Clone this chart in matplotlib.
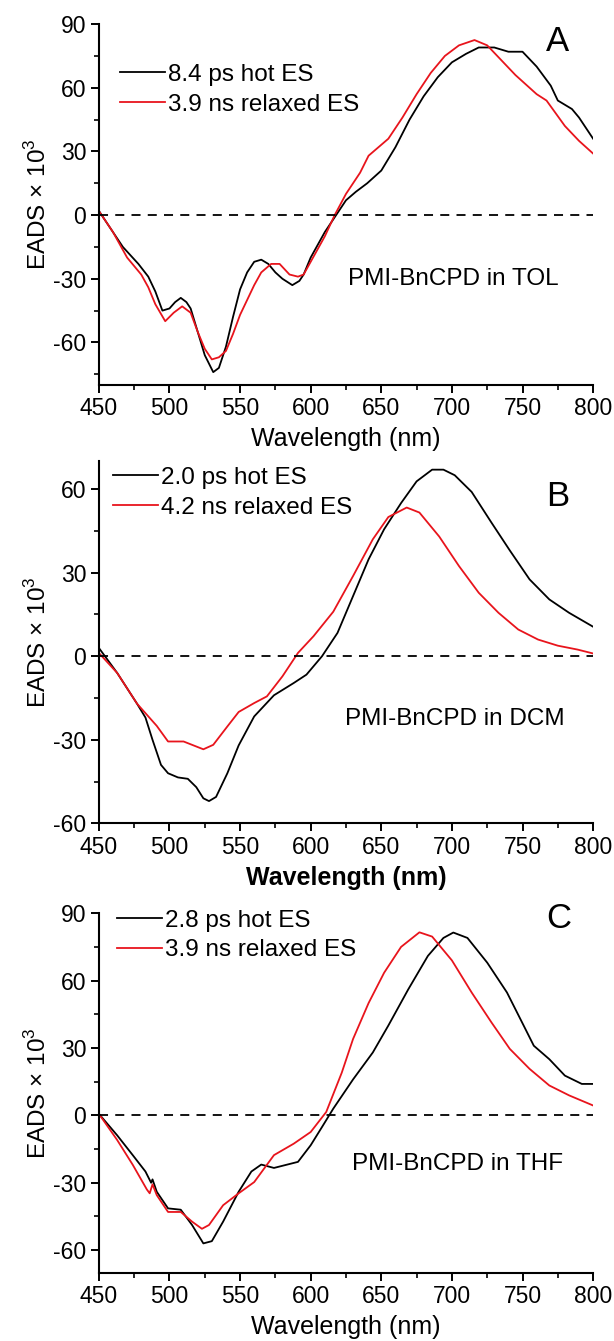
import matplotlib
matplotlib.use("Agg")
import matplotlib.pyplot as plt
from matplotlib.ticker import MultipleLocator

plt.rcParams['font.family'] = ['Liberation Sans', 'DejaVu Sans']
plt.rcParams['mathtext.fontset'] = 'custom'
plt.rcParams['mathtext.rm'] = 'Liberation Sans'
plt.rcParams['axes.unicode_minus'] = False

# ---- panel A: PMI-BnCPD in TOL ----
wl_a_hot = [450, 460, 467, 478, 485, 490, 495, 500, 504, 508, 512, 515, 520, 525, 531, 535, 540,
            545, 550, 555, 560, 565, 570, 575, 580, 587, 592, 595, 600, 610, 620, 625, 632, 640,
            650, 660, 670, 680, 690, 700, 710, 719, 730, 740, 750, 760, 770, 775, 785, 790, 800]
a_hot = [2, -8, -15, -23, -29, -36, -45, -44, -41, -39, -41, -44, -55, -66, -74, -72, -62,
         -48, -35, -27, -22, -21, -23, -27, -30, -33, -31, -28, -20, -8, 2, 7, 11, 15,
         21, 32, 45, 56, 65, 72, 76, 79, 79, 77, 77, 70, 61, 54, 50, 46, 36]
wl_a_rel = [450, 460, 470, 480, 485, 490, 497, 503, 509, 515, 520, 525, 530, 535, 540, 545, 550,
            560, 565, 572, 578, 585, 591, 595, 600, 610, 617, 625, 635, 641, 655, 665, 675, 685,
            695, 705, 716, 725, 735, 745, 750, 760, 767, 780, 790, 800]
a_rel = [2, -8, -20, -28, -34, -42, -50, -46, -43, -46, -55, -63, -68, -67, -64, -56, -47,
         -33, -27, -23, -23, -28, -29, -28, -22, -10, 0, 10, 20, 28, 36, 46, 57, 67,
         75, 80, 82.5, 80, 73, 66, 63, 57, 54, 42, 35, 29]

# ---- panel B: PMI-BnCPD in DCM ----
wl_b_hot = [450, 463, 477, 483, 488, 494, 499, 506, 513, 519, 524, 528, 533, 541, 549, 560, 574,
            588, 597, 608, 619, 630, 641, 652, 664, 675, 686, 694, 702, 714, 728, 741, 755, 769,
            783, 800]
b_hot = [3, -6, -17, -22, -30, -39, -42, -43.5, -44, -47, -51, -52, -50.5, -42, -32, -21.6, -14,
         -9.6, -6.6, 0, 8.4, 21.6, 34.8, 45.6, 55, 62.8, 67, 67, 65, 59, 48, 38, 27.6, 20.4,
         15.6, 10.6]
wl_b_rel = [450, 463, 477, 491, 499, 510, 519, 524, 531, 541, 549, 560, 569, 580, 591, 602,
            616, 630, 644, 655, 668, 677, 691, 705, 719, 733, 747, 761, 775, 789, 800]
b_rel = [1.2, -6, -17, -25, -30.6, -30.6, -32.4, -33.4, -31.8, -25.2, -20, -16.8, -14.4,
         -7.2, 1.2, 7.2, 16, 28.8, 42, 50, 53.4, 51.6, 43, 32.4, 22.8, 15.6, 9.6, 6,
         3.8, 2.4, 1]

# ---- panel C: PMI-BnCPD in THF ----
wl_c_hot = [450, 463, 474, 483, 487, 488, 491, 499, 508, 516, 524, 530, 538, 549, 558, 565,
            574, 591, 600, 608, 616, 630, 644, 655, 669, 683, 694, 701, 711, 725, 739, 750,
            758, 769, 780, 792, 800]
c_hot = [0.7, -8.9, -17.7, -25, -30, -28.5, -34, -41.4, -42, -48.8, -57, -56, -47.3, -34,
         -25, -21.9, -23.4, -20.7, -13.3, -5.2, 3, 16, 28, 40, 56, 71, 79, 81.4, 79, 68,
         54.7, 41, 31, 25, 17.7, 14, 14]
wl_c_rel = [450, 463, 474, 484, 486, 488, 491, 499, 508, 516, 523, 528, 538, 549, 560, 574,
            588, 600, 611, 622, 630, 641, 652, 664, 677, 686, 700, 714, 728, 741, 755, 769,
            783, 800]
c_rel = [0.7, -11, -22, -33, -34.7, -30.7, -35.5, -43, -43, -47.3, -50.5, -48.8, -40, -34.7,
         -29.7, -17.7, -12.6, -7.4, 1.5, 19, 34, 50, 63.5, 75, 81.5, 79.6, 69, 54.7, 41.4,
         29.6, 20.7, 13.3, 8.9, 4.4]

panels = [
    dict(letter='A', solvent='PMI-BnCPD in TOL', labels=['8.4 ps hot ES', '3.9 ns relaxed ES'],
         hot=(wl_a_hot, a_hot), rel=(wl_a_rel, a_rel), ylim=(-80, 90), yticks=[-60, -30, 0, 30, 60, 90],
         rect=[0.161, 0.713, 0.805, 0.269], bold=False, leg=(0.042, 0.89),
         letter_xy=(775, 82), solv_xy=(701, -30)),
    dict(letter='B', solvent='PMI-BnCPD in DCM', labels=['2.0 ps hot ES', '4.2 ns relaxed ES'],
         hot=(wl_b_hot, b_hot), rel=(wl_b_rel, b_rel), ylim=(-60, 70), yticks=[-60, -30, 0, 30, 60],
         rect=[0.161, 0.386, 0.805, 0.270], bold=True, leg=(0.028, 0.985),
         letter_xy=(775, 57.5), solv_xy=(702, -22.5)),
    dict(letter='C', solvent='PMI-BnCPD in THF', labels=['2.8 ps hot ES', '3.9 ns relaxed ES'],
         hot=(wl_c_hot, c_hot), rel=(wl_c_rel, c_rel), ylim=(-70, 90), yticks=[-60, -30, 0, 30, 60, 90],
         rect=[0.161, 0.051, 0.805, 0.268], bold=False, leg=(0.036, 1.01),
         letter_xy=(776, 87.8), solv_xy=(704, -21.5)),
]

fig = plt.figure(figsize=(6.14, 13.41), dpi=100)

for p in panels:
    ax = fig.add_axes(p['rect'])
    ax.plot(p['hot'][0], p['hot'][1], color='black', lw=1.3, label=p['labels'][0])
    ax.plot(p['rel'][0], p['rel'][1], color='#e8141c', lw=1.3, label=p['labels'][1])
    ax.axhline(0, color='black', lw=1.3, ls=(0, (5, 4)))
    ax.set_xlim(450, 800)
    ax.set_ylim(*p['ylim'])
    ax.set_yticks(p['yticks'])
    ax.xaxis.set_major_locator(MultipleLocator(50))
    ax.xaxis.set_minor_locator(MultipleLocator(25))
    ax.yaxis.set_minor_locator(MultipleLocator(15))
    for s in ['top', 'right']:
        ax.spines[s].set_visible(False)
    for s in ['left', 'bottom']:
        ax.spines[s].set_linewidth(1.5)
    ax.tick_params(which='major', direction='out', length=6, width=1.4, labelsize=16.5, pad=3)
    ax.tick_params(which='minor', direction='out', length=3.5, width=1.2)
    ax.set_xlabel('Wavelength (nm)', fontsize=18, labelpad=5,
                  fontweight='bold' if p['bold'] else 'normal')
    ax.set_ylabel('EADS × 10$^{3}$', fontsize=17.5, labelpad=2)
    ax.text(*p['letter_xy'], p['letter'], fontsize=25, ha='center', va='center')
    ax.text(*p['solv_xy'], p['solvent'], fontsize=17.5, ha='center', va='center')
    ax.legend(loc='upper left', bbox_to_anchor=p['leg'], frameon=False, fontsize=17.5,
              handlelength=1.85, handletextpad=0.15, labelspacing=0.32, borderpad=0,
              borderaxespad=0)

fig.savefig('out.png', dpi=100)
